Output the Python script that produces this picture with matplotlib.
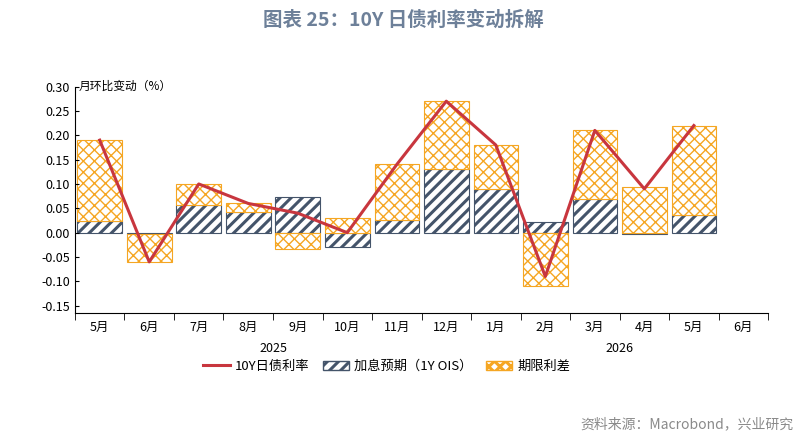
import numpy as np
import matplotlib.pyplot as plt
from matplotlib.patches import Patch
from matplotlib.lines import Line2D

plt.rcParams['font.family'] = ['Noto Sans CJK SC', 'DejaVu Sans']
plt.rcParams['hatch.linewidth'] = 2.2

months = ['5月', '6月', '7月', '8月', '9月', '10月', '11月', '12月',
          '1月', '2月', '3月', '4月', '5月', '6月']
hike = [0.023, -0.002, 0.057, 0.042, 0.073, -0.030, 0.027, 0.130,
        0.090, 0.022, 0.070, -0.003, 0.037]
spread = [0.167, -0.058, 0.043, 0.018, -0.033, 0.030, 0.113, 0.140,
          0.090, -0.110, 0.140, 0.093, 0.183]
yield10 = [0.19, -0.06, 0.10, 0.06, 0.04, 0.00, 0.14, 0.27,
           0.18, -0.09, 0.21, 0.09, 0.22]

navy = '#44546A'
orange = '#F5A623'
red = '#C8363E'

fig = plt.figure(figsize=(8.06, 4.44), dpi=100)
ax = fig.add_axes([0.093, 0.295, 0.86, 0.51])

x = np.arange(len(hike))
ax.bar(x, hike, width=0.9, color='white', edgecolor=navy, hatch='///', linewidth=0.8)
bottom = [h if (h >= 0) == (s >= 0) else 0 for h, s in zip(hike, spread)]
sb = ax.bar(x, spread, bottom=bottom, width=0.9, color='white', edgecolor=orange,
            hatch='xxx', linewidth=0.8)
for p in sb:
    try:
        p.set_hatch_linewidth(1.0)
    except AttributeError:
        pass
ax.plot(x, yield10, color=red, lw=2.2)

ax.set_xlim(-0.5, len(months) - 0.5)
ax.set_ylim(-0.165, 0.30)
ax.set_yticks(np.arange(-0.15, 0.301, 0.05))
ax.set_yticklabels([f'{v:.2f}' for v in np.arange(-0.15, 0.301, 0.05)], fontsize=9)
ax.set_xticks(np.arange(len(months)))
ax.set_xticklabels(months, fontsize=9)
ax.set_xticks(np.arange(-0.5, len(months)), minor=True)
ax.tick_params(axis='x', which='major', length=0, pad=6)
ax.tick_params(axis='x', which='minor', length=5, direction='out')
ax.tick_params(axis='y', direction='in', length=3)
for s in ['top', 'right']:
    ax.spines[s].set_visible(False)
ax.text(3.5, -0.245, '2025', ha='center', fontsize=9)
ax.text(10.5, -0.245, '2026', ha='center', fontsize=9)
ax.text(0.005, 0.30, '月环比变动（%）', transform=ax.get_yaxis_transform(),
        fontsize=8.5, va='center')

handles = [Line2D([], [], color=red, lw=2.2),
           Patch(facecolor='white', edgecolor=navy, hatch='///'),
           Patch(facecolor='white', edgecolor=orange, hatch='xxx')]
fig.legend(handles, ['10Y日债利率', '加息预期（1Y OIS）', '期限利差'],
           loc='center', bbox_to_anchor=(0.48, 0.175), ncol=3, frameon=False,
           fontsize=9.5, handlelength=2, columnspacing=1.0, handletextpad=0.4)

fig.text(0.5, 0.955, '图表 25：10Y 日债利率变动拆解', ha='center', va='center',
         fontsize=14, fontweight='bold', color='#6D8099')
fig.text(0.985, 0.045, '资料来源：Macrobond，兴业研究', ha='right', va='center',
         fontsize=10, color='#8A8A8A')

fig.savefig('out.png', dpi=100)
